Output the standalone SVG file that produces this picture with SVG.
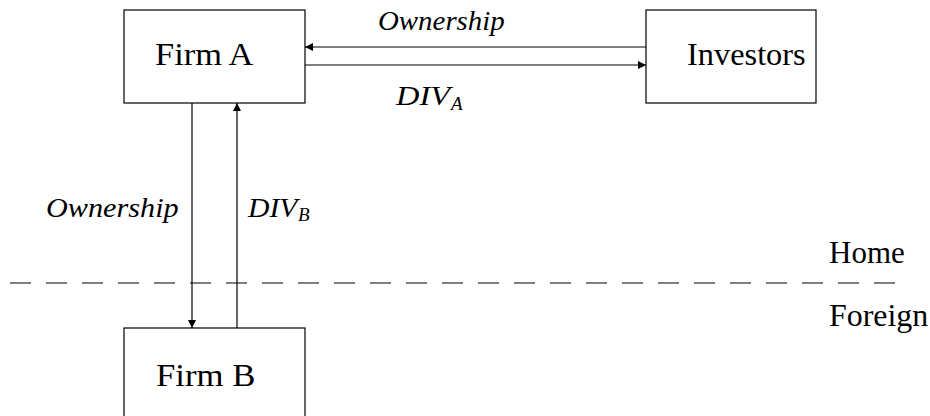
<svg xmlns="http://www.w3.org/2000/svg" width="930" height="416" viewBox="0 0 930 416">
<defs>
<marker id="ah" viewBox="0 0 10 10" refX="10" refY="5" markerWidth="10" markerHeight="8" markerUnits="userSpaceOnUse" orient="auto">
<path d="M0,0 L10,5 L0,10 z" fill="#000"/>
</marker>
</defs>
<style>
.box{fill:#fff;stroke:#000;stroke-width:1.2}
.t{font-family:"Liberation Serif","DejaVu Serif",serif;font-size:31px;fill:#000}
.i{font-family:"Liberation Serif","DejaVu Serif",serif;font-style:italic;font-size:27px;fill:#000}
.s{font-family:"Liberation Serif","DejaVu Serif",serif;font-style:italic;font-size:19px;fill:#000}
.c{stroke:#000;stroke-width:1.2;fill:none}
</style>
<rect width="930" height="416" fill="#fff"/>
<g id="firmA"><rect class="box" x="124" y="10" width="181" height="93"/><text class="t" transform="translate(155,65) scale(1.11,1)">Firm A</text></g>
<g id="investors"><rect class="box" x="646" y="10" width="170" height="93"/><text class="t" transform="translate(687,65) scale(1.045,1)">Investors</text></g>
<g id="firmB"><rect class="box" x="124" y="328" width="181" height="100"/><text class="t" transform="translate(156,386) scale(1.12,1)">Firm B</text></g>
<g id="connectors">
<line class="c" x1="646" y1="47" x2="305" y2="47" marker-end="url(#ah)"/>
<line class="c" x1="305" y1="65" x2="646" y2="65" marker-end="url(#ah)"/>
<line class="c" x1="192" y1="103" x2="192" y2="328" marker-end="url(#ah)"/>
<line class="c" x1="237" y1="328" x2="237" y2="103" marker-end="url(#ah)"/>
<line stroke="#000" stroke-width="1.2" stroke-dasharray="21,15" x1="10" y1="283" x2="900" y2="283"/>
</g>
<g id="labels">
<text class="i" transform="translate(378,30) scale(1.07,1)">Ownership</text>
<text class="i" transform="translate(396,105) scale(1.2,1)">DIV</text><text class="s" x="451" y="110">A</text>
<text class="i" transform="translate(46,217) scale(1.12,1)">Ownership</text>
<text class="i" transform="translate(248,217) scale(1.1,1)">DIV</text><text class="s" x="298" y="221">B</text>
<text class="t" x="829" y="263">Home</text>
<text class="t" transform="translate(829,326) scale(1.03,1)">Foreign</text>
</g>
</svg>
